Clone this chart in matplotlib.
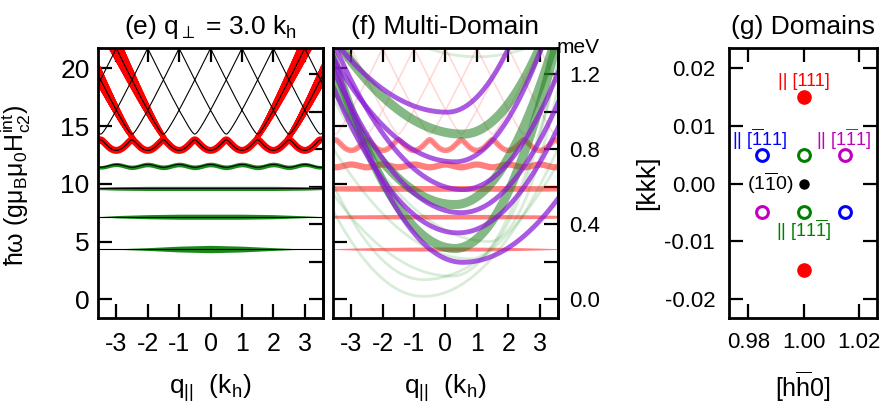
import numpy as np
import matplotlib.pyplot as plt
from matplotlib.collections import LineCollection

plt.rcParams['font.family'] = ['Liberation Sans', 'DejaVu Sans']
plt.rcParams['mathtext.fontset'] = 'custom'
plt.rcParams['mathtext.rm'] = 'Liberation Sans'
plt.rcParams['mathtext.it'] = 'Liberation Sans'
plt.rcParams['mathtext.sf'] = 'Liberation Sans'

# ---- (e) single domain spectrum ----
band_min = 12.93          # bottom of folded hyperbolic band
band_gap = 3.0            # hyperbola scale
band_vel2 = 32.6          # squared slope
band_coupling = 0.25      # half gap at anticrossings
band_centers = np.arange(-7, 8)
red_centers = [-2, -1, 1, 2]   # branches carrying weight (outer side)

flat_levels = [4.35, 7.15, 9.6]
wavy_level = 11.55
wavy_amp = 0.12

# green weight (half width) of flat bands at sampled q
weight_q = [-3.6, -3.0, -2.0, -1.0, 0.0, 1.0, 2.0, 3.0, 3.6]
weight_flat = [
    [0.0, 0.02, 0.12, 0.25, 0.32, 0.25, 0.12, 0.0, 0.0],
    [0.0, 0.10, 0.18, 0.22, 0.22, 0.22, 0.18, 0.08, 0.0],
    [0.10, 0.15, 0.18, 0.18, 0.18, 0.18, 0.18, 0.15, 0.10],
]
weight_wavy = [0.15, 0.18, 0.2, 0.2, 0.2, 0.2, 0.2, 0.18, 0.15]
# red weight of the flat bands in the multi-domain panel
red_weight_flat = [
    [0.03, 0.08, 0.14, 0.17, 0.18, 0.17, 0.14, 0.08, 0.03],
    [0.12, 0.16, 0.18, 0.2, 0.2, 0.2, 0.18, 0.16, 0.12],
    [0.22, 0.24, 0.25, 0.25, 0.25, 0.25, 0.25, 0.24, 0.22],
]

# ---- (f) other domains: (centre, minimum, left curvature, right curvature) ----
purple_c = [0.55, 0.4, 0.5, 0.55, 0.3, 0.05]
purple_min = [3.2, 5.75, 7.5, 9.5, 11.9, 16.2]
purple_al = [1.05, 0.8, 0.75, 0.75, 0.6, 0.48]
purple_ar = [0.6, 0.9, 1.0, 1.1, 1.3, 1.45]
green_c = [0.55, 0.3, 0.3]
green_min = [14.3, 8.2, 4.4]
green_al = [0.5, 0.7, 1.1]
green_ar = [1.25, 1.4, 1.7]
faint_c = [-0.7, -0.7, 0.2, 0.8, 1.4, 1.0]
faint_min = [1.7, 0.25, 2.0, 3.5, 5.0, 21.0]
faint_al = [1.0, 0.9, 0.5, 0.5, 0.5, 0.3]
faint_ar = [0.55, 0.7, 1.6, 2.2, 2.8, 0.3]

# ---- (g) domains ----
dom_h = [1.00, 1.00, 0.985, 1.015, 1.015, 0.985, 1.00, 1.00, 1.00]
dom_k = [0.015, -0.015, 0.005, -0.005, 0.005, -0.005, 0.005, -0.005, 0.0]
dom_col = ['red', 'red', 'blue', 'blue', 'm', 'm', 'green', 'green', 'black']
dom_fill = [True, True, False, False, False, False, False, False, True]

MEV = 16.25   # energy units per meV

q = np.linspace(-3.7, 3.7, 1500)


def hyper(x):
    return band_min + np.sqrt(band_gap**2 + band_vel2 * x**2) - band_gap


def bands(qq):
    n = len(band_centers)
    out = np.empty((len(qq), n))
    off = band_coupling * (np.eye(n, k=1) + np.eye(n, k=-1))
    for i, qv in enumerate(qq):
        out[i] = np.linalg.eigvalsh(np.diag(hyper(qv - band_centers)) + off)
    return out


def arc(c, m, al, ar):
    return m + np.where(q < c, al, ar) * (q - c)**2


def fat_line(ax, xs, ys, widths, color, z):
    pts = np.column_stack([xs, ys]).reshape(-1, 1, 2)
    segs = np.concatenate([pts[:-1], pts[1:]], axis=1)
    ax.add_collection(LineCollection(segs, linewidths=widths[:-1], colors=color,
                                     zorder=z, capstyle='round'))


E = bands(q)
wavy = wavy_level + wavy_amp * np.cos(2 * np.pi * q)

fig = plt.figure(figsize=(8.84, 4.04), dpi=100)
ax_e = fig.add_axes([0.1109, 0.2129, 0.2545, 0.6683])
ax_f = fig.add_axes([0.3767, 0.2129, 0.2545, 0.6683])
ax_g = fig.add_axes([0.8247, 0.2129, 0.1674, 0.6683])

# ---------- (e) ----------
for lvl, w in zip(flat_levels, weight_flat):
    ax_e.fill_between(weight_q, np.array(lvl) - w, np.array(lvl) + w,
                      color='#1a8a1a', lw=0, zorder=1)
wq = np.interp(q, weight_q, weight_wavy)
ax_e.fill_between(q, wavy - wq, wavy + wq, color='#1a8a1a', lw=0, zorder=1)
ax_e.plot(q, E[:, 0], color='red', lw=5, zorder=2, solid_capstyle='butt')
for c in red_centers:
    if c < 0:
        qs = np.linspace(-3.7, c - 0.45, 200)
    else:
        qs = np.linspace(c + 0.45, 3.7, 200)
    es = hyper(qs - c)
    fat_line(ax_e, qs, es, 3.5 + 0.8 * (es - 14), 'red', 2)
for j in range(E.shape[1]):
    ax_e.plot(q, E[:, j], color='black', lw=0.8, zorder=3)
for lvl in flat_levels:
    ax_e.axhline(lvl, color='black', lw=0.8, zorder=3)
ax_e.plot(q, wavy, color='black', lw=0.8, zorder=3)

# ---------- (f) ----------
for j in range(E.shape[1]):
    ax_f.plot(q, E[:, j], color='red', lw=1.2, alpha=0.15)
ax_f.plot(q, E[:, 0], color='red', lw=4, alpha=0.45)
ax_f.plot(q, wavy, color='red', lw=4.5, alpha=0.5)
for lvl, w in zip(flat_levels, red_weight_flat):
    ax_f.fill_between(weight_q, np.array(lvl) - w, np.array(lvl) + w,
                      color='red', lw=0, alpha=0.5)
for c, m, al, ar in zip(faint_c, faint_min, faint_al, faint_ar):
    ax_f.plot(q, arc(c, m, al, ar), color='green', lw=2, alpha=0.15)
for c, m, al, ar in zip(green_c, green_min, green_al, green_ar):
    ax_f.plot(q, arc(c, m, al, ar), color='#1f7f1f', lw=6.5, alpha=0.55)
for c, m, al, ar in zip(purple_c, purple_min, purple_al, purple_ar):
    ax_f.plot(q, arc(c, m, al, ar), color='#8a1ad6', lw=3.5, alpha=0.72)

for ax in (ax_e, ax_f):
    ax.set_xlim(-3.58, 3.58)
    ax.set_ylim(-1.62, 21.76)
    ax.set_xticks(range(-3, 4))
    ax.set_xticklabels(['-3', '-2', '-1', '0', '1', '2', '3'])
    ax.set_yticks(range(0, 21, 5))
    ax.set_xlabel(r'q$_{||}$  (k$_{\rm h}$)', fontsize=19, labelpad=12)
    ax.tick_params(direction='in', length=10, width=1.6, labelsize=18,
                   top=True, pad=10)
    for s in ax.spines.values():
        s.set_linewidth(2)
    sec = ax.secondary_yaxis('right', functions=(lambda y: y / MEV, lambda m: m * MEV))
    sec.set_ticks(np.arange(0, 1.21, 0.2))
    sec.tick_params(direction='in', length=10, width=1.6, labelsize=16, pad=8)
    sec.spines['right'].set_linewidth(2)
    if ax is ax_e:
        sec.set_yticklabels([])
    else:
        sec.set_yticklabels(['0.0', '', '0.4', '', '0.8', '', '1.2'])

ax_e.set_yticklabels(['0', '5', '10', '15', '20'], fontsize=19)
ax_e.tick_params(axis='y', pad=6)
ax_f.set_yticklabels([])
ax_e.set_ylabel(r'ħω (gμ$_{\rm B}$μ$_0$H$_{c2}^{int}$)', fontsize=18, labelpad=2)
ax_e.yaxis.set_label_coords(-0.29, 0.49)
ax_e.set_title(r'(e) q$_\perp$ = 3.0 k$_{\rm h}$', fontsize=19, pad=10)
ax_f.set_title('(f) Multi-Domain', fontsize=19, pad=10)
ax_f.text(1.09, 1.0, 'meV', transform=ax_f.transAxes, fontsize=15,
          ha='center', va='center')

# ---------- (g) ----------
for h, k, c, f in zip(dom_h, dom_k, dom_col, dom_fill):
    if f:
        ax_g.plot(h, k, 'o', color=c, ms=9.5 if c == 'red' else 6.5, mec=c)
    else:
        ax_g.plot(h, k, 'o', mfc='none', mec=c, ms=8.5, mew=2.2)
ax_g.text(1.0, 0.0177, r'|| [111]', color='red', ha='center', va='center', fontsize=13)
ax_g.text(0.984, 0.0077, r'|| [$\overline{1}$11]', color='blue', ha='center', va='center', fontsize=13)
ax_g.text(1.0144, 0.0077, r'|| [1$\overline{1}$1]', color='m', ha='center', va='center', fontsize=13)
ax_g.text(1.0, -0.0081, r'|| [11$\overline{1}$]', color='green', ha='center', va='center', fontsize=13)
ax_g.text(0.9963, 0.0, r'(1$\overline{1}$0)', color='black', ha='right', va='center', fontsize=14)
ax_g.set_xlim(0.973, 1.0265)
ax_g.set_ylim(-0.0233, 0.0235)
ax_g.set_xticks([0.98, 1.00, 1.02])
ax_g.set_xticklabels(['0.98', '1.00', '1.02'])
ax_g.set_yticks([-0.02, -0.01, 0.0, 0.01, 0.02])
ax_g.set_yticklabels(['-0.02', '-0.01', '0.00', '0.01', '0.02'])
ax_g.tick_params(direction='in', length=10, width=1.6, labelsize=16,
                 top=True, right=True, pad=10)
for s in ax_g.spines.values():
    s.set_linewidth(2)
ax_g.set_xlabel(r'[h$\overline{\rm h}$0]', fontsize=18, labelpad=12)
ax_g.set_ylabel('[kkk]', fontsize=19, labelpad=4)
ax_g.set_title('(g) Domains', fontsize=19, pad=10)

fig.savefig('out.png', dpi=100)
